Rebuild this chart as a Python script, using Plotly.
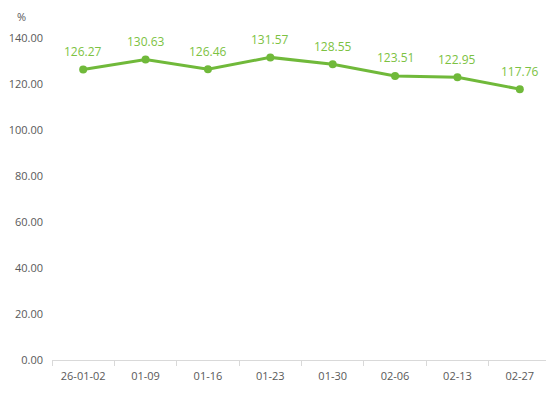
import plotly.graph_objects as go

categories = ["26-01-02", "01-09", "01-16", "01-23", "01-30", "02-06", "02-13", "02-27"]
values = [126.27, 130.63, 126.46, 131.57, 128.55, 123.51, 122.95, 117.76]
y_ticks = [0, 20, 40, 60, 80, 100, 120, 140]

green = "#70B93A"
label_green = "#7CC242"
gray_text = "#595959"

fig = go.Figure()
fig.add_trace(go.Scatter(
    x=categories, y=values,
    mode="lines+markers",
    line=dict(color=green, width=3),
    marker=dict(color=green, size=8),
    cliponaxis=False,
    hoverinfo="skip",
))

annotations = [dict(
    x=c, y=v, xref="x", yref="y", text=f"{v:.2f}", showarrow=False,
    yshift=18, xanchor="center", yanchor="middle",
    font=dict(color=label_green, size=12, family="Open Sans"),
) for c, v in zip(categories, values)]

annotations.append(dict(
    text="%", xref="paper", yref="paper", x=-0.062, y=1.066,
    xanchor="center", yanchor="middle", showarrow=False,
    font=dict(size=11, color=gray_text),
))

fig.update_layout(
    width=554, height=393,
    margin=dict(l=44, r=11, t=30, b=41),
    paper_bgcolor="white", plot_bgcolor="white",
    showlegend=False,
    font=dict(family="Open Sans", size=11, color=gray_text),
    xaxis=dict(
        type="category",
        automargin=False,
        showgrid=False,
        showline=True, linecolor="#D9D9D9", linewidth=1,
        ticks="outside", tickson="boundaries", ticklen=5, tickcolor="#D9D9D9",
        tickfont=dict(size=11, color=gray_text),
        ticklabelstandoff=6,
        range=[-0.5, len(categories) - 0.5],
    ),
    yaxis=dict(
        range=[0, 140],
        automargin=False,
        tickvals=y_ticks,
        ticktext=[f"{v:.2f}" for v in y_ticks],
        showgrid=False, zeroline=False, showline=False,
        tickfont=dict(size=11, color=gray_text),
        ticks="", ticklabelstandoff=8,
    ),
    annotations=annotations,
)

fig.write_html("out.html")
